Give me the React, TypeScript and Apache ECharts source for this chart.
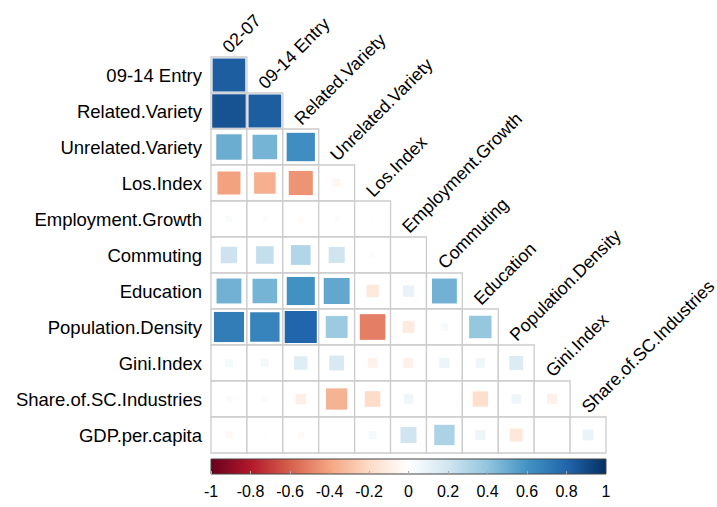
import React, { useEffect, useRef } from "react";
import * as echarts from "echarts";

const colNames = [
  "02-07",
  "09-14 Entry",
  "Related.Variety",
  "Unrelated.Variety",
  "Los.Index",
  "Employment.Growth",
  "Commuting",
  "Education",
  "Population.Density",
  "Gini.Index",
  "Share.of.SC.Industries",
];
const rowNames = [
  "09-14 Entry",
  "Related.Variety",
  "Unrelated.Variety",
  "Los.Index",
  "Employment.Growth",
  "Commuting",
  "Education",
  "Population.Density",
  "Gini.Index",
  "Share.of.SC.Industries",
  "GDP.per.capita",
];

// correlation values, one array per row (lower triangle)
const corrEntry0914 = [0.83];
const corrRelatedVariety = [0.87, 0.83];
const corrUnrelatedVariety = [0.5, 0.47, 0.62];
const corrLosIndex = [-0.41, -0.36, -0.45, -0.05];
const corrEmploymentGrowth = [0.03, 0.02, -0.02, -0.02, -0.01];
const corrCommuting = [0.21, 0.24, 0.3, 0.2, -0.02, 0.01];
const corrEducation = [0.48, 0.47, 0.61, 0.52, -0.12, 0.1, 0.48];
const corrPopulationDensity = [0.7, 0.67, 0.8, 0.37, -0.51, -0.11, 0.04, 0.39];
const corrGiniIndex = [0.05, 0.05, 0.14, 0.17, -0.07, -0.08, 0.08, 0.07, 0.15];
const corrShareSC = [-0.03, -0.03, -0.09, -0.35, -0.19, 0.07, 0.0, -0.18, 0.07, -0.08];
const corrGDP = [-0.04, -0.01, -0.03, 0.0, 0.05, 0.2, 0.32, 0.08, -0.13, 0.0, 0.09];

const corrRows = [
  corrEntry0914,
  corrRelatedVariety,
  corrUnrelatedVariety,
  corrLosIndex,
  corrEmploymentGrowth,
  corrCommuting,
  corrEducation,
  corrPopulationDensity,
  corrGiniIndex,
  corrShareSC,
  corrGDP,
];

const rdbu = [
  "#67001F",
  "#B2182B",
  "#D6604D",
  "#F4A582",
  "#FDDBC7",
  "#FFFFFF",
  "#D1E5F0",
  "#92C5DE",
  "#4393C3",
  "#2166AC",
  "#053061",
];
const colorbarRange = [-1, 1];

const FONT = "'Liberation Sans', Arial, Helvetica, sans-serif";

export default function App() {
  const ref = useRef<HTMLDivElement>(null);

  useEffect(() => {
    if (!ref.current) return;
    const chart = echarts.init(ref.current, null, { renderer: "svg" });

    const cellData: number[][] = [];
    const squareData: number[][] = [];
    corrRows.forEach((row, i) => {
      row.forEach((r, j) => {
        cellData.push([j, i]);
        squareData.push([j, i, r]);
      });
    });
    const labelData = colNames.map((_, j) => [j, j]);

    const option: any = {
      animation: false,
      backgroundColor: "#ffffff",
      grid: [
        { left: 211, top: 57, width: 395, height: 396 },
        { left: 211, top: 459, width: 395, height: 15 },
      ],
      xAxis: [
        {
          gridIndex: 0,
          type: "category",
          data: colNames,
          show: false,
        },
        {
          gridIndex: 1,
          type: "value",
          min: colorbarRange[0],
          max: colorbarRange[1],
          interval: 0.2,
          z: 10,
          axisLine: { show: false },
          splitLine: { show: false },
          axisTick: {
            show: true,
            inside: true,
            length: 3,
            lineStyle: { color: "#aaaaaa", width: 1 },
          },
          axisLabel: {
            fontSize: 16,
            color: "#000",
            fontFamily: FONT,
            margin: 9,
          },
        },
      ],
      yAxis: [
        {
          gridIndex: 0,
          type: "category",
          data: rowNames,
          inverse: true,
          axisLine: { show: false },
          axisTick: { show: false },
          splitLine: { show: false },
          axisLabel: {
            fontSize: 18.5,
            color: "#000",
            fontFamily: FONT,
            margin: 9,
          },
        },
        {
          gridIndex: 1,
          type: "value",
          min: 0,
          max: 1,
          show: false,
        },
      ],
      visualMap: {
        type: "continuous",
        show: false,
        min: -1,
        max: 1,
        dimension: 2,
        seriesIndex: 1,
        inRange: { color: rdbu },
      },
      series: [
        {
          type: "custom",
          xAxisIndex: 0,
          yAxisIndex: 0,
          clip: false,
          z: 1,
          data: cellData,
          renderItem: (params: any, api: any) => {
            const p = api.coord([api.value(0), api.value(1)]);
            const s = api.size([1, 1]);
            return {
              type: "rect",
              shape: { x: p[0] - s[0] / 2, y: p[1] - s[1] / 2, width: s[0], height: s[1] },
              style: { fill: "#ffffff", stroke: "#cccccc", lineWidth: 1.3 },
            };
          },
        },
        {
          type: "custom",
          xAxisIndex: 0,
          yAxisIndex: 0,
          clip: false,
          z: 2,
          data: squareData,
          renderItem: (params: any, api: any) => {
            const p = api.coord([api.value(0), api.value(1)]);
            const s = api.size([1, 1]);
            const k = Math.min(0.96, Math.sqrt(Math.abs(api.value(2))) * 1.0);
            const w = s[0] * k;
            const h = s[1] * k;
            return {
              type: "rect",
              shape: { x: p[0] - w / 2, y: p[1] - h / 2, width: w, height: h },
              style: { fill: api.visual("color") },
            };
          },
        },
        {
          type: "custom",
          xAxisIndex: 0,
          yAxisIndex: 0,
          clip: false,
          z: 3,
          data: labelData,
          renderItem: (params: any, api: any) => {
            const p = api.coord([api.value(0), api.value(1)]);
            const s = api.size([1, 1]);
            return {
              type: "text",
              x: p[0] + 3,
              y: p[1] - s[1] / 2 - 1,
              rotation: Math.PI / 4,
              style: {
                text: colNames[params.dataIndex],
                fontSize: 17.8,
                fontFamily: FONT,
                fill: "#000",
                align: "left",
                verticalAlign: "bottom",
              },
            };
          },
        },
        {
          type: "custom",
          xAxisIndex: 1,
          yAxisIndex: 1,
          clip: false,
          z: 1,
          data: [[colorbarRange[0], colorbarRange[1]]],
          renderItem: (params: any, api: any) => {
            const p0 = api.coord([api.value(0), 1]);
            const p1 = api.coord([api.value(1), 0]);
            const stops = rdbu.map((c, i) => ({ offset: i / (rdbu.length - 1), color: c }));
            return {
              type: "rect",
              shape: { x: p0[0], y: p0[1], width: p1[0] - p0[0], height: p1[1] - p0[1] },
              style: {
                fill: new echarts.graphic.LinearGradient(0, 0, 1, 0, stops),
                stroke: "#444444",
                lineWidth: 1,
              },
            };
          },
        },
      ],
    };

    chart.setOption(option);
    return () => chart.dispose();
  }, []);

  return (
    <div
      ref={ref}
      style={{ position: "absolute", left: 0, top: 0, width: 717, height: 507 }}
    />
  );
}
